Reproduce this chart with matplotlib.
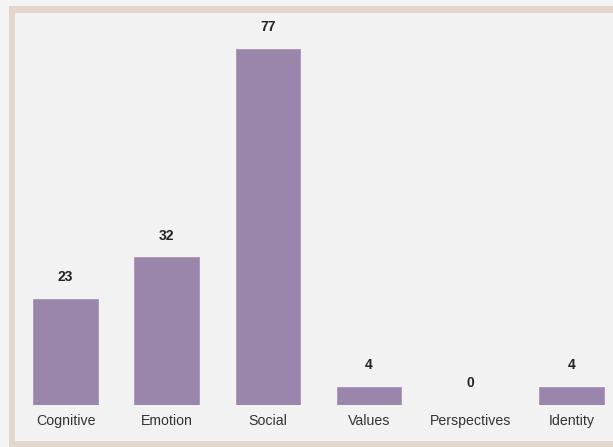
import matplotlib.pyplot as plt
from matplotlib.patches import Rectangle

categories = ["Cognitive", "Emotion", "Social", "Values", "Perspectives", "Identity"]
counts = [23, 32, 77, 4, 0, 4]

W, H = 613, 447
fig = plt.figure(figsize=(W / 100, H / 100), dpi=100)
fig.patch.set_facecolor("#f4f4f4")

# beige frame and inner panel (figure pixel coords)
fig.patches.append(Rectangle((9 / W, 0), 1, 441 / H, transform=fig.transFigure,
                             facecolor="#e3d7cd", edgecolor="none", zorder=-10))
fig.patches.append(Rectangle((15 / W, 6 / H), 1, 428 / H, transform=fig.transFigure,
                             facecolor="#f2f2f2", edgecolor="none", zorder=-9))

ax = fig.add_axes([15 / W, 42 / H, 607 / W, 392 / H])
ax.set_zorder(1)
ax.set_facecolor("none")
x = range(len(categories))
bars = ax.bar(x, counts, width=0.64, color="#9b86ab", edgecolor="#a995b6", linewidth=0.6)

for b, v in zip(bars, counts):
    ax.annotate(str(v), (b.get_x() + b.get_width() / 2, v), xytext=(0, 15.5),
                textcoords="offset points", ha="center", va="center",
                fontsize=10, fontweight="bold", color="#222222", family="Liberation Sans")

ax.set_xlim(-0.5, len(categories) - 0.5)
ax.set_ylim(0, 77 * 392 / 356)
ax.set_xticks(list(x))
ax.set_xticklabels(categories, fontsize=10.2, color="#333333", family="Liberation Sans")
ax.tick_params(axis="x", length=0, pad=6.5)
ax.set_yticks([])
for s in ax.spines.values():
    s.set_visible(False)

fig.savefig("out.png", dpi=100, facecolor=fig.get_facecolor())
